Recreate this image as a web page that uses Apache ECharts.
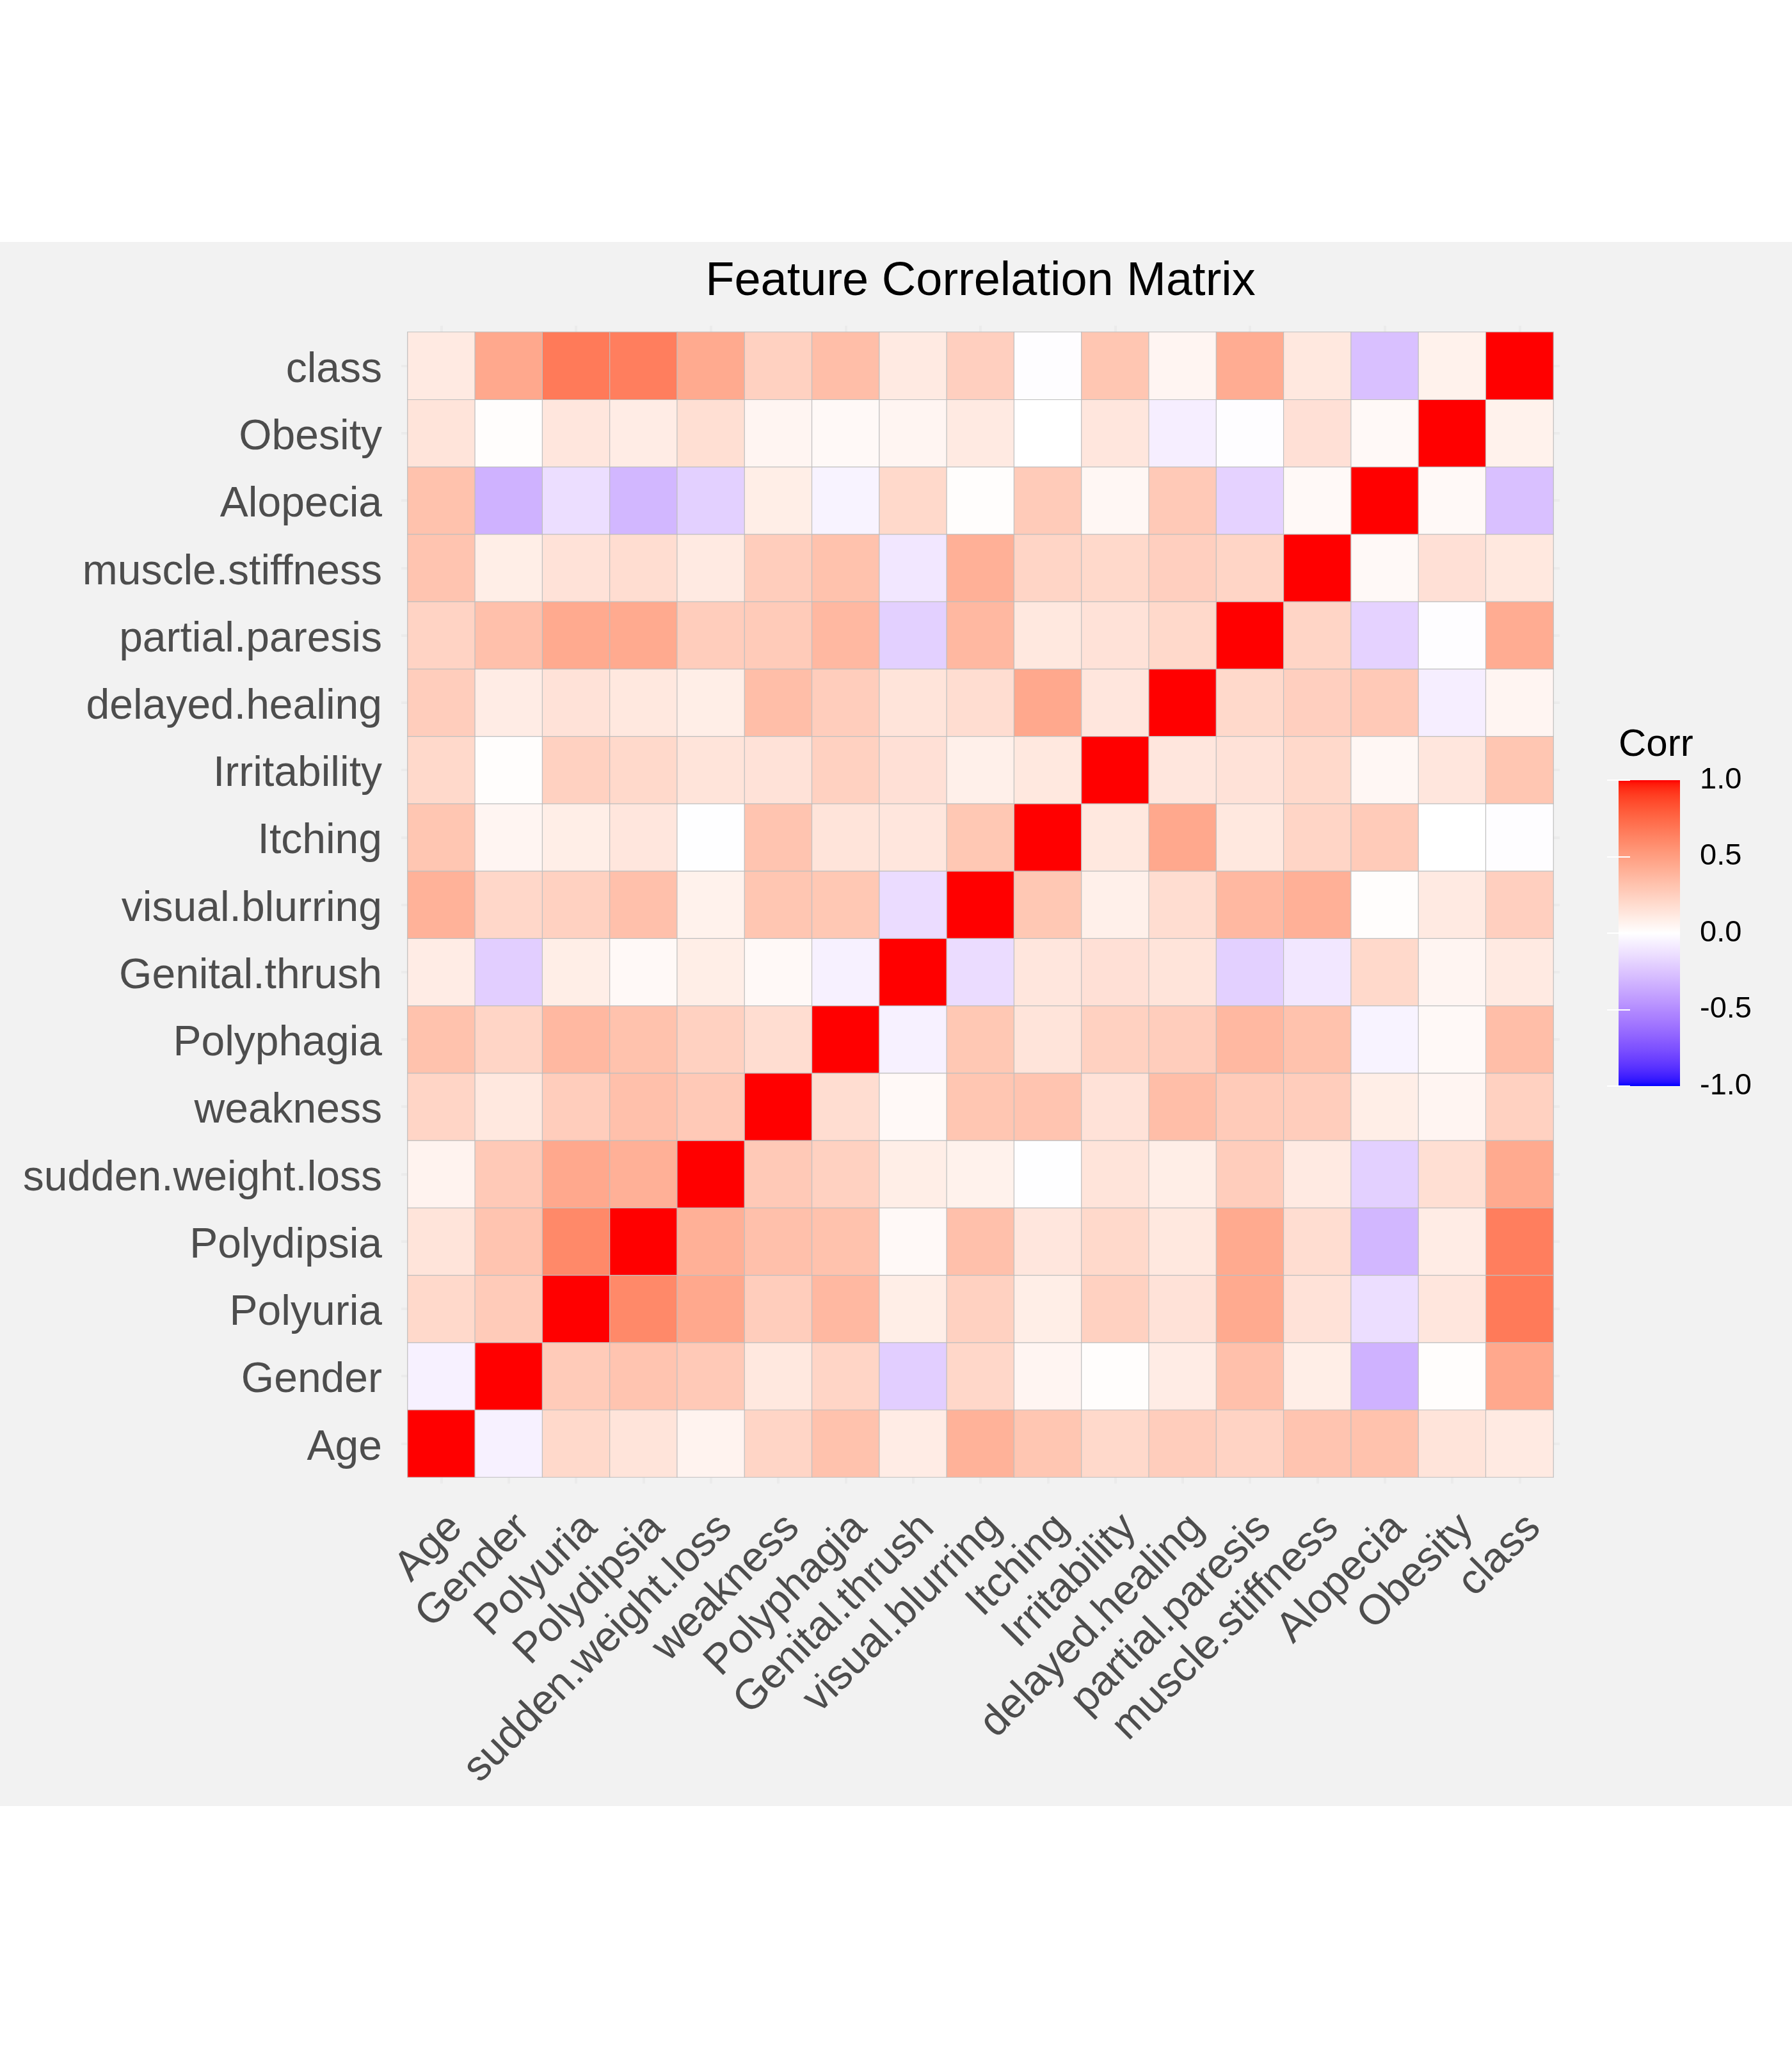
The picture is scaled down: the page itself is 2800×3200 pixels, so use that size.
<!DOCTYPE html>
<html><head><meta charset="utf-8">
<script src="https://cdn.jsdelivr.net/npm/echarts@6/dist/echarts.min.js"></script>
<style>
html,body{margin:0;padding:0;background:#ffffff;}
#chart{position:absolute;left:0;top:378px;width:2800px;height:2444px;background:#F2F2F2;}
</style></head><body><div id="chart"></div>
<script>
// ---- categories (x order left->right, y order bottom->top) ----
const features = ['Age','Gender','Polyuria','Polydipsia','sudden.weight.loss','weakness','Polyphagia','Genital.thrush','visual.blurring','Itching','Irritability','delayed.healing','partial.paresis','muscle.stiffness','Alopecia','Obesity','class'];

// ---- correlation rows (same order as features) ----
const corrAge          = [1.00,-0.06,0.20,0.14,0.06,0.22,0.32,0.10,0.40,0.30,0.20,0.26,0.23,0.31,0.32,0.14,0.11];
const corrGender       = [-0.06,1.00,0.27,0.31,0.28,0.12,0.22,-0.21,0.21,0.05,0.01,0.10,0.33,0.09,-0.33,0.01,0.45];
const corrPolyuria     = [0.20,0.27,1.00,0.60,0.45,0.26,0.37,0.09,0.24,0.09,0.24,0.15,0.44,0.15,-0.14,0.13,0.67];
const corrPolydipsia   = [0.14,0.31,0.60,1.00,0.41,0.33,0.32,0.03,0.33,0.13,0.20,0.12,0.44,0.18,-0.31,0.10,0.65];
const corrWeightLoss   = [0.06,0.28,0.45,0.41,1.00,0.28,0.24,0.09,0.07,-0.005,0.14,0.09,0.26,0.11,-0.20,0.17,0.44];
const corrWeakness     = [0.22,0.12,0.26,0.33,0.28,1.00,0.18,0.03,0.30,0.31,0.15,0.34,0.27,0.26,0.09,0.05,0.24];
const corrPolyphagia   = [0.32,0.22,0.37,0.32,0.24,0.18,1.00,-0.06,0.29,0.14,0.24,0.26,0.37,0.32,-0.05,0.03,0.34];
const corrThrush       = [0.10,-0.21,0.09,0.03,0.09,0.03,-0.06,1.00,-0.15,0.13,0.16,0.14,-0.20,-0.10,0.20,0.05,0.11];
const corrBlurring     = [0.40,0.21,0.24,0.33,0.07,0.30,0.29,-0.15,1.00,0.29,0.08,0.18,0.37,0.41,0.01,0.11,0.25];
const corrItching      = [0.30,0.05,0.09,0.13,-0.005,0.31,0.14,0.13,0.29,1.00,0.12,0.45,0.12,0.22,0.27,0.00,-0.01];
const corrIrritability = [0.20,0.01,0.24,0.20,0.14,0.15,0.24,0.16,0.08,0.12,1.00,0.13,0.15,0.20,0.04,0.13,0.30];
const corrHealing      = [0.26,0.10,0.15,0.12,0.09,0.34,0.26,0.14,0.18,0.45,0.13,1.00,0.20,0.25,0.28,-0.07,0.05];
const corrParesis      = [0.23,0.33,0.44,0.44,0.26,0.27,0.37,-0.20,0.37,0.12,0.15,0.20,1.00,0.22,-0.19,-0.01,0.43];
const corrStiffness    = [0.31,0.09,0.15,0.18,0.11,0.26,0.32,-0.10,0.41,0.22,0.20,0.25,0.22,1.00,0.03,0.16,0.12];
const corrAlopecia     = [0.32,-0.33,-0.14,-0.31,-0.20,0.09,-0.05,0.20,0.01,0.27,0.04,0.28,-0.19,0.03,1.00,0.03,-0.27];
const corrObesity      = [0.14,0.01,0.13,0.10,0.17,0.05,0.03,0.05,0.11,0.00,0.13,-0.07,-0.01,0.16,0.03,1.00,0.07];
const corrClass        = [0.11,0.45,0.67,0.65,0.44,0.24,0.34,0.11,0.25,-0.01,0.30,0.05,0.43,0.12,-0.27,0.07,1.00];

const legendTicks = [-1.0, -0.5, 0.0, 0.5, 1.0];

const corrRows = [corrAge,corrGender,corrPolyuria,corrPolydipsia,corrWeightLoss,corrWeakness,corrPolyphagia,corrThrush,corrBlurring,corrItching,corrIrritability,corrHealing,corrParesis,corrStiffness,corrAlopecia,corrObesity,corrClass];

// ---- Lab-space diverging palette (blue - white - red) ----
function toLin(c){c/=255;return c<=0.04045?c/12.92:Math.pow((c+0.055)/1.055,2.4);}
function toS(c){c=Math.max(0,Math.min(1,c));const v=c<=0.0031308?12.92*c:1.055*Math.pow(c,1/2.4)-0.055;return Math.round(Math.max(0,Math.min(1,v))*255);}
const Xn=0.95047,Yn=1.0,Zn=1.08883;
function fl(t){return t>0.008856?Math.cbrt(t):(7.787*t+16/116);}
function fi(t){return t>0.206893?t*t*t:(t-16/116)/7.787;}
function rgbToLab(r,g,b){
  const R=toLin(r),G=toLin(g),B=toLin(b);
  const X=(0.4124*R+0.3576*G+0.1805*B)/Xn,Y=(0.2126*R+0.7152*G+0.0722*B)/Yn,Z=(0.0193*R+0.1192*G+0.9505*B)/Zn;
  const fx=fl(X),fy=fl(Y),fz=fl(Z);
  return [116*fy-16,500*(fx-fy),200*(fy-fz)];
}
function labToRgb(L,a,b){
  const fy=(L+16)/116,fx=fy+a/500,fz=fy-b/200;
  const X=Xn*fi(fx),Y=Yn*fi(fy),Z=Zn*fi(fz);
  const r=3.2406*X-1.5372*Y-0.4986*Z,g=-0.9689*X+1.8758*Y+0.0415*Z,bb=0.0557*X-0.2040*Y+1.0570*Z;
  return 'rgb('+toS(r)+','+toS(g)+','+toS(bb)+')';
}
const labLow=rgbToLab(0,0,255),labMid=rgbToLab(255,255,255),labHigh=rgbToLab(255,0,0);
function pal(v){
  let A,B,t;
  if(v<0){A=labLow;B=labMid;t=v+1;}else{A=labMid;B=labHigh;t=v;}
  return labToRgb(A[0]+(B[0]-A[0])*t,A[1]+(B[1]-A[1])*t,A[2]+(B[2]-A[2])*t);
}
const N=81;
const stopColors=[],gradStops=[];
for(let i=0;i<N;i++){
  const v=-1+2*i/(N-1);
  stopColors.push(pal(v));
  gradStops.push({offset:(1-v)/2,color:pal(v)});
}
gradStops.sort((p,q)=>p.offset-q.offset);

const heatData=[];
for(let yi=0;yi<features.length;yi++){
  for(let xi=0;xi<features.length;xi++){
    heatData.push([xi,yi,corrRows[yi][xi]]);
  }
}

const FONT='Liberation Sans, Arial, sans-serif';
const stub={show:true,alignWithLabel:true,length:10,lineStyle:{color:'#EBEBEB',width:4}};
const chart=echarts.init(document.getElementById('chart'),null,{renderer:'canvas'});
chart.setOption({
  animation:false,
  backgroundColor:'#F2F2F2',
  title:[
    {text:'Feature Correlation Matrix',left:1532,top:26,padding:0,textAlign:'center',
     textStyle:{fontFamily:FONT,fontSize:74,fontWeight:'normal',color:'#000000'}},
    {text:'Corr',left:2529,top:756,padding:0,
     textStyle:{fontFamily:FONT,fontSize:60,fontWeight:'normal',color:'#000000'}}
  ],
  grid:[
    {left:637,top:141,width:1790,height:1789,containLabel:false,show:false},
    {left:2529,top:841,width:96,height:478,containLabel:false,show:true,borderWidth:0,
     backgroundColor:new echarts.graphic.LinearGradient(0,0,0,1,gradStops)}
  ],
  xAxis:[
    {gridIndex:0,type:'category',data:features,position:'bottom',
     axisLine:{show:false},axisTick:stub,splitLine:{show:false},
     axisLabel:{interval:0,rotate:45,margin:0,align:'right',verticalAlign:'top',padding:[32,33,0,0],
       fontFamily:FONT,fontSize:66,color:'#4D4D4D'}},
    {gridIndex:0,type:'category',data:features,position:'top',
     axisLine:{show:false},axisTick:stub,axisLabel:{show:false},splitLine:{show:false}},
    {gridIndex:1,type:'value',min:0,max:1,show:false}
  ],
  yAxis:[
    {gridIndex:0,type:'category',data:features,position:'left',
     axisLine:{show:false},axisTick:stub,splitLine:{show:false},
     axisLabel:{interval:0,margin:40,verticalAlign:'top',lineHeight:14,fontFamily:FONT,fontSize:66,color:'#4D4D4D'}},
    {gridIndex:0,type:'category',data:features,position:'right',
     axisLine:{show:false},axisTick:stub,axisLabel:{show:false},splitLine:{show:false}},
    {gridIndex:1,type:'value',min:legendTicks[0],max:legendTicks[legendTicks.length-1],interval:0.5,position:'right',
     axisLine:{show:false},splitLine:{show:false},
     axisTick:{show:true,inside:true,length:18,lineStyle:{color:'#FFFFFF',width:2}},
     axisLabel:{margin:31,fontFamily:FONT,fontSize:47,color:'#000000',formatter:v=>v.toFixed(1)}},
    {gridIndex:1,type:'value',min:legendTicks[0],max:legendTicks[legendTicks.length-1],interval:0.5,position:'left',
     axisLine:{show:false},splitLine:{show:false},axisLabel:{show:false},
     axisTick:{show:true,inside:true,length:18,lineStyle:{color:'#FFFFFF',width:2}}}
  ],
  visualMap:{type:'continuous',min:-1,max:1,show:false,seriesIndex:0,dimension:2,inRange:{color:stopColors}},
  series:[
    {type:'heatmap',xAxisIndex:0,yAxisIndex:0,data:heatData,
     itemStyle:{borderColor:'#BEBEBE',borderWidth:1.2},
     emphasis:{disabled:true},label:{show:false}},
    {type:'line',xAxisIndex:2,yAxisIndex:2,data:[],silent:true}
  ]
});
</script></body></html>
